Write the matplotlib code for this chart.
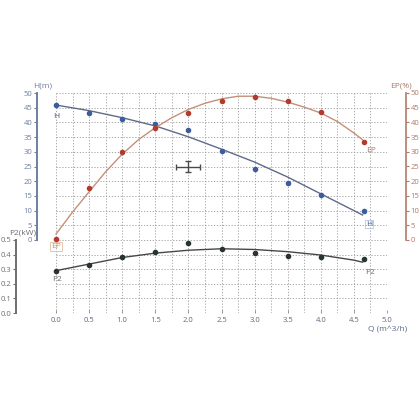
import matplotlib
matplotlib.use("Agg")
import matplotlib.pyplot as plt
import numpy as np

plt.rcParams['font.family'] = ['Open Sans', 'DejaVu Sans']

# ---- data (measured points) ----
q_pts = [0.0, 0.5, 1.0, 1.5, 2.0, 2.5, 3.0, 3.5, 4.0, 4.65]
h_pts = [45.8, 43.1, 41.1, 39.5, 37.3, 30.3, 24.2, 19.5, 15.3, 10.0]
ep_pts = [0.2, 17.7, 30.0, 38.1, 43.3, 47.3, 48.6, 47.2, 43.6, 33.3]
p2_pts = [0.290, 0.330, 0.385, 0.420, 0.477, 0.438, 0.410, 0.391, 0.384, 0.373]

# ---- data (fitted curves) ----
q_h_fit = [0.0, 0.5, 1.0, 1.5, 2.0, 2.5, 3.0, 3.5, 4.0, 4.5, 4.63]
h_fit = [45.9, 44.0, 41.6, 38.8, 35.1, 30.9, 26.5, 21.4, 15.7, 10.0, 8.5]

q_ep_fit = [0.0, 0.25, 0.5, 0.75, 1.0, 1.25, 1.5, 1.75, 2.0, 2.25,
            2.5, 2.75, 3.0, 3.25, 3.5, 3.75, 4.0, 4.25, 4.5, 4.63]
ep_fit = [2.0, 9.5, 16.4, 23.2, 29.2, 34.2, 38.2, 41.6, 44.4, 46.5,
          48.0, 48.9, 48.9, 48.2, 46.9, 45.2, 43.2, 40.3, 36.4, 34.1]

q_p2_fit = [0.0, 0.5, 1.0, 1.5, 2.0, 2.5, 3.0, 3.5, 4.0, 4.5, 4.63]
p2_fit = [0.290, 0.335, 0.380, 0.410, 0.430, 0.440, 0.435, 0.420, 0.397, 0.362, 0.348]

err_q, err_h, err_dq, err_dh = 2.0, 25.0, 0.18, 1.9

xticks = [0.0, 0.5, 1.0, 1.5, 2.0, 2.5, 3.0, 3.5, 4.0, 4.5, 5.0]
h_ticks = [0, 5, 10, 15, 20, 25, 30, 35, 40, 45, 50]
p2_ticks = [0.0, 0.1, 0.2, 0.3, 0.4, 0.5]

# ---- style ----
c_h_pt, c_h_ln, c_h_ax = '#3b5c9e', '#5d6b88', '#6f7f9e'
c_ep_pt, c_ep_ln, c_ep_ax = '#b23b2f', '#c49078', '#b07a68'
c_p_pt, c_p_ln, c_p_ax = '#27352a', '#474747', '#6e6e6e'
grid_kw = dict(color='#9a9a9a', linestyle=(0, (1.5, 2.0)), linewidth=0.6)
fs = 5.5

fig = plt.figure(figsize=(4.2, 4.2), dpi=100)
L, W = 56 / 420, (387 - 56) / 420
def fy(px):
    return 1 - px / 420

axH = fig.add_axes([L, fy(240), W, fy(93) - fy(240)])
axP = fig.add_axes([L, fy(313), W, fy(240) - fy(313)])
axE = axH.twinx()

minor_x = np.arange(0, 5.01, 0.25)
for ax in (axH, axP):
    ax.set_xlim(0, 5)
    ax.set_xticks(xticks)
    ax.set_xticks(minor_x, minor=True)
    ax.grid(True, which='both', axis='x', **grid_kw)
    ax.grid(True, which='major', axis='y', **grid_kw)
    ax.set_facecolor('none')
    for s in ('top', 'right', 'bottom'):
        ax.spines[s].set_visible(False)

axH.set_ylim(0, 50)
axH.set_yticks(h_ticks)
axH.tick_params(axis='x', which='both', length=0, labelbottom=False)
axH.spines['left'].set_position(('outward', 14))
axH.spines['left'].set_color(c_h_ax)
axH.spines['left'].set_linewidth(1.4)
axH.tick_params(axis='y', colors=c_h_ax, labelsize=fs, length=2, width=0.8, pad=1)

axP.set_ylim(0, 0.5)
axP.set_yticks(p2_ticks)
axP.set_yticklabels([f'{v:.1f}' for v in p2_ticks])
axP.spines['left'].set_position(('outward', 29))
axP.spines['left'].set_color(c_p_ax)
axP.spines['left'].set_linewidth(1.4)
axP.tick_params(axis='y', colors=c_p_ax, labelsize=fs, length=2, width=0.8, pad=1)
axP.set_xticklabels([f'{v:.1f}' for v in xticks])
axP.tick_params(axis='x', which='major', colors='#888888', labelcolor='#5b6a86',
                labelsize=fs, length=2, width=0.6, pad=3, direction='in')
axP.tick_params(axis='x', which='minor', length=0)

axE.set_ylim(0, 50)
axE.set_yticks(h_ticks)
for s in ('top', 'left', 'bottom'):
    axE.spines[s].set_visible(False)
axE.spines['right'].set_position(('outward', 14))
axE.spines['right'].set_color(c_ep_ax)
axE.spines['right'].set_linewidth(1.2)
axE.tick_params(axis='y', colors=c_ep_ax, labelsize=fs, length=2, width=0.8, pad=1)

# ---- curves ----
axH.plot(q_h_fit, h_fit, color=c_h_ln, lw=1.0, clip_on=False)
axH.scatter(q_pts, h_pts, s=9, color=c_h_pt, zorder=3, clip_on=False)
axE.plot(q_ep_fit, ep_fit, color=c_ep_ln, lw=1.0, clip_on=False)
axE.scatter(q_pts, ep_pts, s=9, color=c_ep_pt, zorder=3, clip_on=False)
axP.plot(q_p2_fit, p2_fit, color=c_p_ln, lw=1.0, clip_on=False)
axP.scatter(q_pts, p2_pts, s=9, color=c_p_pt, zorder=3, clip_on=False)

axH.errorbar([err_q], [err_h], xerr=[err_dq], yerr=[err_dh], fmt='none',
             ecolor='#4a4a4a', elinewidth=1.0, capsize=2.5, capthick=1.0)

# ---- labels ----
axH.text(0.0, 42.0, 'H', color=c_h_pt, fontsize=6, ha='center', va='center')
axH.text(4.73, 5.4, 'H', color=c_h_pt, fontsize=6, ha='center', va='center',
         bbox=dict(boxstyle='square,pad=0.1', fc='none', ec='#a9b8d8', lw=0.5))
axE.text(4.68, 30.4, 'EP', color=c_ep_ax, fontsize=6, ha='left', va='center')
axE.text(0.0, -2.2, 'EP', color='#d0905a', fontsize=6, ha='center', va='center',
         clip_on=False,
         bbox=dict(boxstyle='square,pad=0.1', fc='none', ec='#e0b090', lw=0.5))
axP.text(0.02, 0.23, 'P2', color=c_p_ax, fontsize=6, ha='center', va='center')
axP.text(4.75, 0.28, 'P2', color=c_p_ax, fontsize=6, ha='center', va='center')

fig.text(43 / 420, fy(86), 'H(m)', color=c_h_ax, fontsize=6, ha='center', va='center')
fig.text(401 / 420, fy(86), 'EP(%)', color=c_ep_ax, fontsize=6, ha='center', va='center')
fig.text(23 / 420, fy(233), 'P2(kW)', color=c_p_ax, fontsize=6, ha='center', va='center')
fig.text(388 / 420, fy(330), 'Q (m^3/h)', color='#5b6a86', fontsize=6, ha='center', va='center')

fig.savefig('out.png', dpi=100, facecolor='white')
